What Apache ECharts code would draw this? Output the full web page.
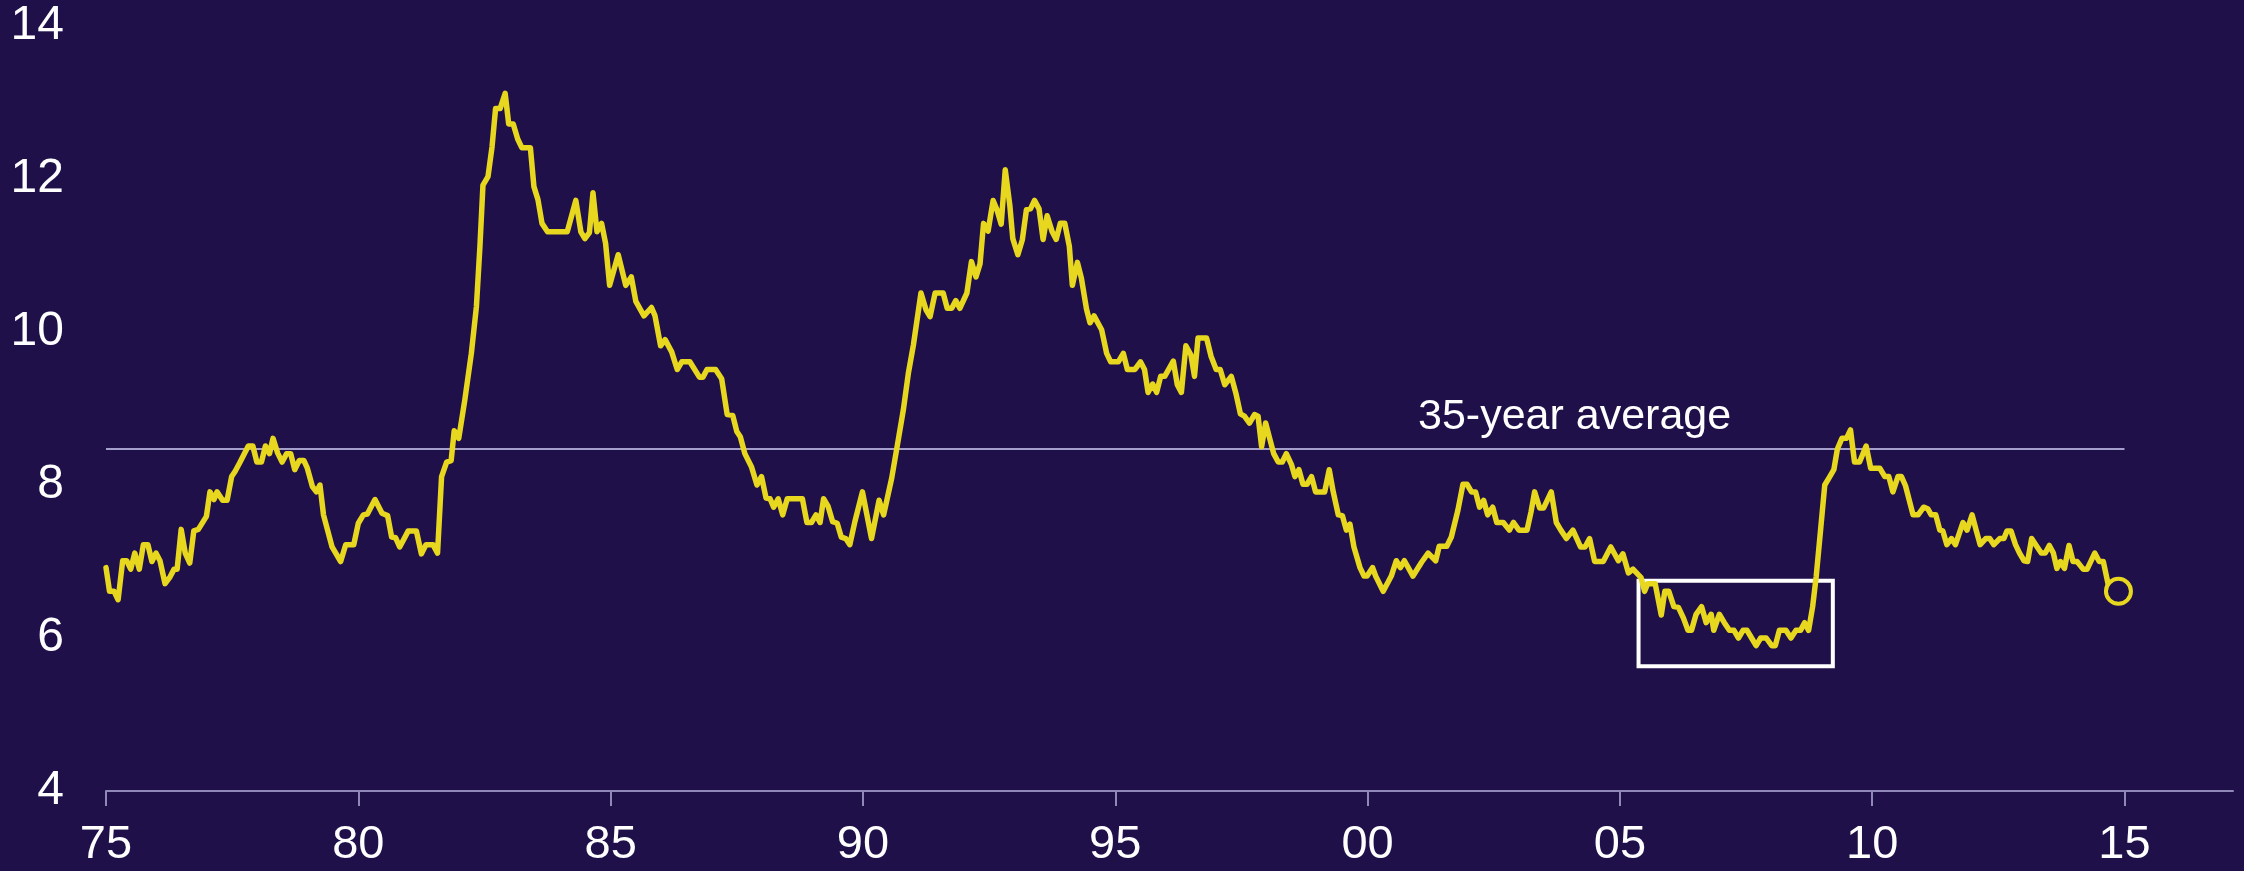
<!DOCTYPE html>
<html>
<head>
<meta charset="utf-8">
<script src="https://cdn.jsdelivr.net/npm/echarts@6/dist/echarts.min.js"></script>
<style>
  html, body { margin: 0; padding: 0; background: #1f104a; }
  #chart { width: 2244px; height: 871px; }
</style>
</head>
<body>
<div id="chart"></div>
<script>
// Mortgage rate (%), decimal year vs. rate
const years1970s = [1975.00,1975.07,1975.16,1975.24,1975.33,1975.41,1975.49,1975.57,1975.66,1975.74,1975.83,1975.91,1975.99,1976.07,1976.17,1976.27,1976.35,1976.41,1976.49,1976.57,1976.66,1976.74,1976.83,1976.99,1977.06,1977.14,1977.20,1977.31,1977.40,1977.49,1977.56,1977.65,1977.82,1977.91,1977.99,1978.08,1978.16,1978.24,1978.31,1978.40,1978.49,1978.58,1978.66,1978.74,1978.83,1978.92,1978.99,1979.09,1979.17,1979.24,1979.31,1979.48,1979.65,1979.75,1979.91];
const rates1970s = [6.92,6.61,6.61,6.50,7.01,7.01,6.90,7.11,6.90,7.22,7.22,7.00,7.11,7.01,6.71,6.80,6.90,6.90,7.42,7.11,6.98,7.40,7.42,7.59,7.91,7.81,7.91,7.80,7.80,8.11,8.18,8.29,8.51,8.51,8.30,8.30,8.51,8.41,8.61,8.42,8.30,8.41,8.41,8.20,8.32,8.32,8.22,7.98,7.91,8.00,7.61,7.19,7.00,7.22,7.22];

const years1980s = [1980.00,1980.10,1980.18,1980.33,1980.47,1980.58,1980.66,1980.74,1980.82,1980.99,1981.15,1981.25,1981.34,1981.48,1981.57,1981.65,1981.75,1981.84,1981.90,1981.99,1982.11,1982.24,1982.34,1982.41,1982.47,1982.57,1982.65,1982.72,1982.81,1982.91,1982.98,1983.07,1983.16,1983.24,1983.41,1983.48,1983.56,1983.64,1983.75,1984.14,1984.31,1984.41,1984.49,1984.58,1984.65,1984.73,1984.82,1984.90,1984.98,1985.15,1985.30,1985.41,1985.50,1985.66,1985.81,1985.88,1985.99,1986.08,1986.21,1986.32,1986.41,1986.57,1986.76,1986.83,1986.91,1987.08,1987.20,1987.31,1987.42,1987.50,1987.57,1987.66,1987.79,1987.90,1987.99,1988.08,1988.16,1988.23,1988.32,1988.41,1988.50,1988.80,1988.89,1988.98,1989.07,1989.15,1989.22,1989.31,1989.40,1989.49,1989.57,1989.66,1989.74,1989.84,1989.99];
const rates1980s = [7.50,7.61,7.62,7.81,7.63,7.60,7.32,7.31,7.19,7.40,7.40,7.10,7.22,7.22,7.11,8.11,8.30,8.32,8.71,8.61,9.11,9.72,10.33,11.12,11.92,12.03,12.42,12.92,12.92,13.12,12.72,12.72,12.52,12.41,12.41,11.90,11.73,11.42,11.31,11.31,11.72,11.31,11.22,11.30,11.82,11.31,11.42,11.16,10.61,11.01,10.61,10.72,10.40,10.21,10.32,10.21,9.82,9.90,9.74,9.51,9.61,9.61,9.41,9.41,9.51,9.51,9.39,8.92,8.91,8.70,8.63,8.41,8.24,8.00,8.11,7.83,7.82,7.71,7.82,7.61,7.82,7.82,7.51,7.51,7.61,7.51,7.82,7.72,7.52,7.50,7.32,7.30,7.22,7.52,7.91];

const years1990s = [1990.17,1990.32,1990.41,1990.57,1990.70,1990.80,1990.90,1991.00,1991.15,1991.25,1991.33,1991.43,1991.59,1991.67,1991.76,1991.84,1991.92,1992.06,1992.15,1992.24,1992.32,1992.39,1992.48,1992.58,1992.66,1992.74,1992.82,1992.91,1992.97,1993.07,1993.16,1993.24,1993.32,1993.40,1993.49,1993.57,1993.65,1993.75,1993.83,1993.91,1994.00,1994.09,1994.15,1994.25,1994.33,1994.43,1994.50,1994.58,1994.73,1994.83,1994.91,1995.06,1995.16,1995.24,1995.39,1995.50,1995.58,1995.65,1995.74,1995.82,1995.90,1995.98,1996.15,1996.23,1996.31,1996.40,1996.50,1996.57,1996.64,1996.81,1996.90,1997.00,1997.08,1997.17,1997.30,1997.39,1997.48,1997.56,1997.66,1997.76,1997.83,1997.90,1997.98,1998.06,1998.14,1998.23,1998.31,1998.39,1998.49,1998.56,1998.64,1998.72,1998.80,1998.89,1998.97,1999.15,1999.24,1999.32,1999.42,1999.50,1999.58,1999.65,1999.73,1999.85,1999.93,1999.99];
const rates1990s = [7.30,7.80,7.61,8.09,8.59,8.98,9.46,9.83,10.51,10.29,10.20,10.51,10.51,10.31,10.31,10.41,10.31,10.51,10.92,10.72,10.89,11.42,11.32,11.72,11.59,11.41,12.12,11.66,11.22,11.01,11.21,11.60,11.61,11.72,11.61,11.21,11.52,11.31,11.21,11.42,11.42,11.12,10.61,10.91,10.70,10.30,10.12,10.21,10.03,9.72,9.61,9.61,9.72,9.51,9.51,9.61,9.51,9.21,9.32,9.21,9.42,9.42,9.62,9.31,9.21,9.82,9.70,9.42,9.92,9.92,9.68,9.51,9.51,9.31,9.42,9.20,8.93,8.90,8.81,8.92,8.90,8.50,8.81,8.61,8.41,8.30,8.30,8.41,8.27,8.11,8.20,8.01,8.01,8.11,7.91,7.91,8.20,7.91,7.61,7.60,7.41,7.49,7.19,6.92,6.81,6.81];

const years2000s = [2000.10,2000.16,2000.31,2000.47,2000.57,2000.65,2000.73,2000.90,2001.07,2001.20,2001.35,2001.42,2001.57,2001.66,2001.79,2001.89,2001.97,2002.06,2002.14,2002.22,2002.30,2002.38,2002.48,2002.56,2002.69,2002.81,2002.89,2003.00,2003.16,2003.24,2003.31,2003.41,2003.49,2003.64,2003.74,2003.83,2003.94,2004.07,2004.22,2004.31,2004.40,2004.50,2004.67,2004.82,2004.97,2005.06,2005.17,2005.26,2005.42,2005.49,2005.55,2005.70,2005.82,2005.89,2005.97,2006.07,2006.16,2006.26,2006.35,2006.42,2006.51,2006.62,2006.71,2006.81,2006.86,2006.97,2007.07,2007.17,2007.26,2007.35,2007.44,2007.52,2007.61,2007.70,2007.79,2007.90,2008.01,2008.08,2008.16,2008.29,2008.39,2008.49,2008.58,2008.66,2008.74,2008.82,2008.89,2008.98,2009.06,2009.16,2009.24,2009.31,2009.40,2009.49,2009.57,2009.65,2009.75,2009.88,2009.97];
const rates2000s = [6.92,6.81,6.61,6.81,7.01,6.92,7.01,6.81,6.99,7.11,7.01,7.20,7.20,7.32,7.67,8.01,8.01,7.91,7.91,7.71,7.80,7.61,7.71,7.51,7.51,7.41,7.51,7.41,7.41,7.65,7.91,7.70,7.70,7.91,7.51,7.41,7.30,7.41,7.19,7.19,7.30,7.00,7.00,7.19,7.01,7.10,6.85,6.90,6.79,6.61,6.71,6.71,6.30,6.61,6.61,6.41,6.40,6.26,6.10,6.10,6.31,6.41,6.20,6.31,6.10,6.31,6.20,6.10,6.10,6.00,6.10,6.10,6.00,5.90,6.00,6.00,5.90,5.90,6.10,6.10,6.00,6.10,6.10,6.20,6.10,6.41,6.80,7.43,8.00,8.11,8.20,8.47,8.61,8.61,8.72,8.30,8.30,8.51,8.22];

const years2010s = [2010.15,2010.25,2010.33,2010.41,2010.51,2010.58,2010.66,2010.81,2010.91,2011.02,2011.10,2011.17,2011.26,2011.34,2011.40,2011.48,2011.57,2011.65,2011.80,2011.88,2011.98,2012.06,2012.14,2012.25,2012.33,2012.41,2012.53,2012.61,2012.67,2012.75,2012.84,2012.92,2013.01,2013.08,2013.16,2013.25,2013.35,2013.43,2013.51,2013.59,2013.66,2013.73,2013.81,2013.90,2013.98,2014.06,2014.18,2014.26,2014.41,2014.50,2014.58,2014.68,2014.88];
const rates2010s = [8.22,8.11,8.11,7.91,8.11,8.11,7.99,7.61,7.61,7.71,7.69,7.61,7.61,7.41,7.40,7.22,7.30,7.22,7.51,7.41,7.61,7.41,7.22,7.30,7.30,7.22,7.30,7.30,7.40,7.40,7.22,7.11,7.01,7.00,7.30,7.21,7.11,7.11,7.21,7.11,6.91,7.00,6.91,7.21,7.00,7.00,6.90,6.90,7.11,7.00,7.00,6.69,6.61];

// Reference levels and annotation ranges
const averageRate = 8.47;
const averageSpan = [1975, 2015];
const averageLabel = '35-year average';
const averageLabelYear = 2001.0;
const boxYears = [2005.37, 2009.22];
const boxRates = [5.63, 6.75];
const xTicks = [1975, 1980, 1985, 1990, 1995, 2000, 2005, 2010, 2015];
const yTicks = [4, 6, 8, 10, 12, 14];

const BG = '#1f104a';
const YELLOW = '#e8d71f';
const AXIS = '#8f88b8';
const FONT = '"Liberation Sans", Arial, sans-serif';

const years = [].concat(years1970s, years1980s, years1990s, years2000s, years2010s);
const rates = [].concat(rates1970s, rates1980s, rates1990s, rates2000s, rates2010s);
const points = years.map((y, i) => [y, rates[i]]);
const lastPoint = points[points.length - 1];

const chart = echarts.init(document.getElementById('chart'), null, { renderer: 'canvas' });

chart.setOption({
  backgroundColor: BG,
  animation: false,
  grid: { left: 106, right: 11, top: 26, bottom: 80, containLabel: false },
  xAxis: {
    type: 'value',
    min: 1975,
    max: 2017.15,
    interval: 5,
    axisLine: { show: true, lineStyle: { color: AXIS, width: 2 } },
    axisTick: {
      show: true, length: 15, lineStyle: { color: AXIS, width: 2 },
      customValues: xTicks
    },
    axisLabel: {
      color: '#ffffff', fontSize: 47, fontFamily: FONT, margin: 31,
      customValues: xTicks,
      formatter: v => String(Math.round(v) % 100).padStart(2, '0')
    },
    splitLine: { show: false }
  },
  yAxis: {
    type: 'value',
    min: 4,
    max: 14,
    interval: 2,
    axisLine: { show: false },
    axisTick: { show: false },
    splitLine: { show: false },
    axisLabel: {
      color: '#ffffff', fontSize: 48, fontFamily: FONT, margin: 42,
      customValues: yTicks
    }
  },
  series: [
    {
      type: 'line',
      data: points,
      showSymbol: false,
      symbol: 'none',
      lineStyle: { color: YELLOW, width: 5.5, join: 'round', cap: 'round' },
      z: 3,
      markLine: {
        silent: true,
        symbol: 'none',
        label: { show: false },
        lineStyle: { color: '#a59fcb', width: 2, type: 'solid' },
        data: [[{ coord: [averageSpan[0], averageRate] }, { coord: [averageSpan[1], averageRate] }]],
        z: 1
      },
      markArea: {
        silent: true,
        itemStyle: { color: 'rgba(0,0,0,0)', borderColor: '#ffffff', borderWidth: 4 },
        data: [[{ coord: [boxYears[0], boxRates[1]] }, { coord: [boxYears[1], boxRates[0]] }]]
      }
    },
    {
      type: 'scatter',
      data: [lastPoint],
      symbol: 'circle',
      symbolSize: 25,
      itemStyle: { color: BG, borderColor: YELLOW, borderWidth: 4, opacity: 1 },
      z: 5
    }
  ]
});

// Label for the average line, placed through the chart's own coordinate system
const labelPos = chart.convertToPixel({ gridIndex: 0 }, [averageLabelYear, averageRate]);
chart.setOption({
  graphic: [{
    type: 'text',
    x: labelPos[0],
    y: labelPos[1] - 32,
    style: {
      text: averageLabel,
      fill: '#ffffff',
      font: '43px ' + FONT,
      textAlign: 'left',
      textVerticalAlign: 'middle'
    },
    z: 10
  }]
});
</script>
</body>
</html>
